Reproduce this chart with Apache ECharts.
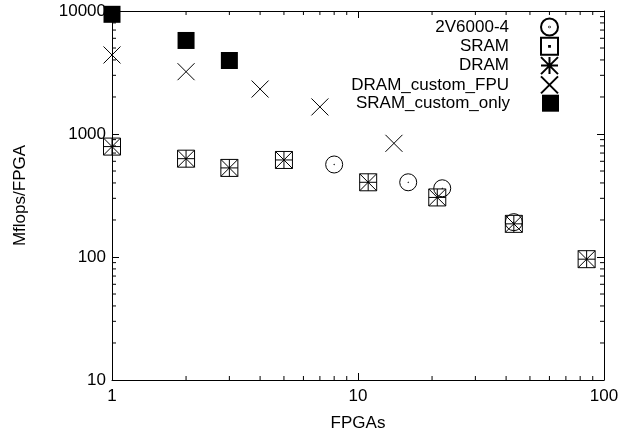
<!DOCTYPE html>
<html>
<head>
<meta charset="utf-8">
<script src="https://cdn.jsdelivr.net/npm/echarts@6/dist/echarts.min.js"></script>
<style>
  html, body { margin: 0; padding: 0; background: #fff; }
  #chart { width: 622px; height: 438px; }
</style>
</head>
<body>
<div id="chart"></div>
<script>
// Measured throughput per FPGA for each board / memory configuration
const seriesNames = ['2V6000-4', 'SRAM', 'DRAM', 'DRAM_custom_FPU', 'SRAM_custom_only'];

const v6000Fpgas = [8, 16, 22, 43];
const v6000Mflops = [565, 405, 362, 192];

const sramFpgas = [1, 2, 3, 5, 11, 21, 43, 85];
const sramMflops = [790, 630, 530, 615, 405, 305, 186, 96];

const dramFpgas = [1, 2, 3, 5, 11, 21, 43, 85];
const dramMflops = [790, 630, 530, 615, 405, 305, 186, 96];

const fpuFpgas = [1, 2, 4, 7, 14];
const fpuMflops = [4390, 3210, 2320, 1660, 840];

const customFpgas = [1, 2, 3];
const customMflops = [9400, 5760, 3960];

// Axis ranges and minor tick positions (log decades)
const xRange = [1, 100];
const yRange = [10, 10000];
const xMinorTicks = [2, 3, 4, 5, 6, 7, 8, 9, 20, 30, 40, 50, 60, 70, 80, 90];
const yMinorTicks = [20, 30, 40, 50, 60, 70, 80, 90,
                     200, 300, 400, 500, 600, 700, 800, 900,
                     2000, 3000, 4000, 5000, 6000, 7000, 8000, 9000];

const pairs = (xs, ys) => xs.map((x, i) => [x, ys[i]]);

const FONT = '"Liberation Sans", Arial, Helvetica, sans-serif';
const INK = '#000';
const FS = 17;

// point glyphs
const SYM_CIRCLE = 'path://M0 8A8 8 0 1 1 16 8A8 8 0 1 1 0 8ZM7.7 8A0.3 0.3 0 1 1 8.3 8A0.3 0.3 0 1 1 7.7 8Z';
const SYM_BOX = 'path://M0 0H16V16H0ZM7.6 7.6H8.4V8.4H7.6Z';
const SYM_STAR = 'path://M8 0V16M0 8H16M0 0L16 16M16 0L0 16';
const SYM_CROSS = 'path://M0 0L16 16M16 0L0 16';

const hollow = { color: 'transparent', borderColor: INK, borderWidth: 1, opacity: 1 };

const axisText = { color: INK, fontSize: FS, fontFamily: FONT };

function mainAxis(extra) {
  return Object.assign({
    type: 'log',
    logBase: 10,
    axisLine: { show: true, onZero: false, lineStyle: { color: INK, width: 1 } },
    axisTick: { show: true, inside: true, length: 7, lineStyle: { color: INK, width: 1 } },
    splitLine: { show: false },
    minorTick: { show: false },
    nameTextStyle: axisText
  }, extra);
}

// short inward tick marks drawn at each minor value on both opposite edges
function minorTickRenderer(horizontal) {
  return function (params, api) {
    const len = 4;
    const v = api.value(horizontal ? 0 : 1);
    let a, b;
    if (horizontal) {
      a = api.coord([v, yRange[0]]);
      b = api.coord([v, yRange[1]]);
      return {
        type: 'group',
        children: [
          { type: 'line', shape: { x1: a[0], y1: a[1], x2: a[0], y2: a[1] - len }, style: { stroke: INK, lineWidth: 1 } },
          { type: 'line', shape: { x1: b[0], y1: b[1], x2: b[0], y2: b[1] + len }, style: { stroke: INK, lineWidth: 1 } }
        ]
      };
    }
    a = api.coord([xRange[0], v]);
    b = api.coord([xRange[1], v]);
    return {
      type: 'group',
      children: [
        { type: 'line', shape: { x1: a[0], y1: a[1], x2: a[0] + len, y2: a[1] }, style: { stroke: INK, lineWidth: 1 } },
        { type: 'line', shape: { x1: b[0], y1: b[1], x2: b[0] - len, y2: b[1] }, style: { stroke: INK, lineWidth: 1 } }
      ]
    };
  };
}

// one legend block per entry: text right-aligned, glyph in a common column
const legendRowTop = 26;
const legendRowStep = 19.3;
const legends = seriesNames.map((name, i) => ({
  data: [name],
  orient: 'vertical',
  right: 63,
  top: legendRowTop + i * legendRowStep - 8.5,
  padding: 0,
  itemWidth: 17,
  itemHeight: 17,
  align: 'right',
  selectedMode: false,
  itemStyle: { opacity: 1 },
  textStyle: { color: INK, fontSize: FS, fontFamily: FONT, padding: [0, 27, 0, 0] }
}));

const option = {
  animation: false,
  backgroundColor: '#fff',
  textStyle: { fontFamily: FONT },
  grid: { left: 112, right: 18, top: 11, bottom: 58, containLabel: false },
  legend: legends,
  xAxis: [
    mainAxis({
      position: 'bottom', min: xRange[0], max: xRange[1],
      name: 'FPGAs', nameLocation: 'middle', nameGap: 35,
      axisLabel: Object.assign({ margin: 8, formatter: v => String(v) }, axisText)
    }),
    mainAxis({
      position: 'top', min: xRange[0], max: xRange[1],
      axisLabel: { show: false }
    })
  ],
  yAxis: [
    mainAxis({
      position: 'left', min: yRange[0], max: yRange[1],
      name: 'Mflops/FPGA', nameLocation: 'middle', nameGap: 83, nameRotate: 90,
      axisLabel: Object.assign({ margin: 6, formatter: v => String(v) }, axisText)
    }),
    mainAxis({
      position: 'right', min: yRange[0], max: yRange[1],
      axisLabel: { show: false }
    })
  ],
  series: [
    {
      type: 'custom', name: 'xMinor', silent: true, clip: false,
      renderItem: minorTickRenderer(true),
      data: xMinorTicks.map(v => [v, yRange[0]]), z: 1
    },
    {
      type: 'custom', name: 'yMinor', silent: true, clip: false,
      renderItem: minorTickRenderer(false),
      data: yMinorTicks.map(v => [xRange[0], v]), z: 1
    },
    {
      type: 'scatter', name: seriesNames[0], symbol: SYM_CIRCLE, symbolSize: 17,
      itemStyle: hollow, data: pairs(v6000Fpgas, v6000Mflops), z: 3
    },
    {
      type: 'scatter', name: seriesNames[1], symbol: SYM_BOX, symbolSize: 17,
      itemStyle: hollow, data: pairs(sramFpgas, sramMflops), z: 3
    },
    {
      type: 'scatter', name: seriesNames[2], symbol: SYM_STAR, symbolSize: 17,
      itemStyle: hollow, data: pairs(dramFpgas, dramMflops), z: 3
    },
    {
      type: 'scatter', name: seriesNames[3], symbol: SYM_CROSS, symbolSize: 17,
      itemStyle: hollow, data: pairs(fpuFpgas, fpuMflops), z: 3
    },
    {
      type: 'scatter', name: seriesNames[4], symbol: 'rect', symbolSize: 17,
      itemStyle: { color: INK, opacity: 1 }, data: pairs(customFpgas, customMflops), z: 3
    }
  ]
};

const chart = echarts.init(document.getElementById('chart'), null, { renderer: 'canvas' });
chart.setOption(option);
</script>
</body>
</html>
